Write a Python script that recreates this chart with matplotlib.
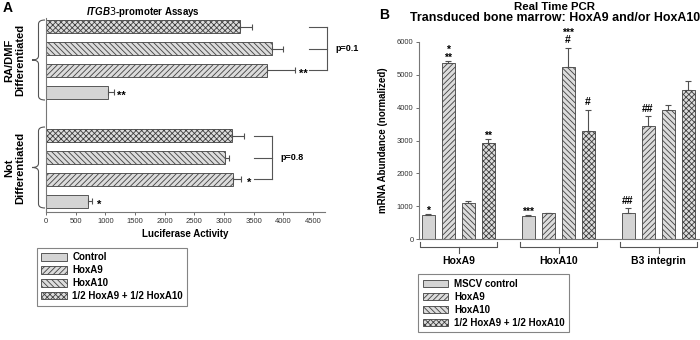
import matplotlib
matplotlib.use("Agg")
import matplotlib.pyplot as plt
from matplotlib.path import Path
from matplotlib.patches import PathPatch, Patch
import numpy as np

plt.rcParams['font.family'] = ['Liberation Sans', 'DejaVu Sans']
plt.rcParams['mathtext.fontset'] = 'custom'
plt.rcParams['mathtext.it'] = 'Liberation Sans:italic:bold'
plt.rcParams['hatch.linewidth'] = 0.6
plt.rcParams['hatch.color'] = '#505050'

# ---- panel A data (luciferase) ----
a_series = ["Control", "HoxA9", "HoxA10", "1/2 HoxA9 + 1/2 HoxA10"]
a_not_vals = [700, 3150, 3020, 3140]
a_not_err = [70, 140, 65, 200]
a_diff_vals = [1050, 3730, 3800, 3270]
a_diff_err = [90, 470, 200, 200]
a_not_sig = ["*", "*", "", ""]
a_diff_sig = ["**", "**", "", ""]
a_groups = ["Not\nDifferentiated", "RA/DMF\nDifferentiated"]
a_pvals = ["p=0.8", "p=0.1"]

# ---- panel B data (real time PCR) ----
b_series = ["MSCV control", "HoxA9", "HoxA10", "1/2 HoxA9 + 1/2 HoxA10"]
b_groups = ["HoxA9", "HoxA10", "B3 integrin"]
b_vals = [[720, 5350, 1100, 2930],
          [700, 780, 5250, 3300],
          [800, 3440, 3930, 4550]]
b_err = [[30, 70, 60, 110],
         [20, 15, 580, 630],
         [130, 300, 160, 270]]
b_sig = [["*", "*\n**", "", "**"],
         ["***", "", "***\n#", "#"],
         ["##", "##", "", ""]]

faces = ['#d4d4d4', '#dcdcdc', '#dcdcdc', '#dcdcdc']
hatches = ['', '//////', '\\\\\\\\\\\\', 'xxxxxx']
edge = '#404040'
ecol = '#505050'

W, H = 700, 340
fig = plt.figure(figsize=(7, 3.4), dpi=100)


def fx(px):
    return px / W


def fy(py):
    return 1 - py / H


def brace_v(x_tip, x_end, y0, y1, r=4):
    # vertical curly brace opening to the right (pixel coords)
    xm = (x_tip + x_end) / 2
    ym = (y0 + y1) / 2
    pts = [(x_end, y0), (xm, y0), (xm, y0 + r), (xm, ym - r), (xm, ym), (x_tip, ym),
           (xm, ym), (xm, ym + r), (xm, y1 - r), (xm, y1), (x_end, y1)]
    codes = [Path.MOVETO, Path.CURVE3, Path.CURVE3, Path.LINETO, Path.CURVE3, Path.CURVE3,
             Path.CURVE3, Path.CURVE3, Path.LINETO, Path.CURVE3, Path.CURVE3]
    p = Path([(fx(a), fy(b)) for a, b in pts], codes)
    fig.patches.append(PathPatch(p, fill=False, lw=0.8, ec='#555555', transform=fig.transFigure))


# ================= Panel A =================
axA = fig.add_axes([fx(46), fy(212), fx(325 - 46), fy(18) - fy(212)])
for g, (vals, errs, sigs) in enumerate([(a_not_vals, a_not_err, a_not_sig),
                                         (a_diff_vals, a_diff_err, a_diff_sig)]):
    pos = np.arange(4) + g * 5
    for i in range(4):
        axA.barh(pos[i], vals[i], height=0.6, color=faces[i], hatch=hatches[i],
                 edgecolor=edge, linewidth=0.6)
        axA.errorbar(vals[i], pos[i], xerr=[[0], [errs[i]]], fmt='none', ecolor=ecol,
                     elinewidth=0.8, capsize=2.5, capthick=0.8)
        if sigs[i]:
            axA.text(vals[i] + errs[i] + 130, pos[i] - 0.15, sigs[i], ha='center', va='center',
                     fontsize=8, fontweight='bold')
axA.set_xlim(0, 4700)
axA.set_ylim(-0.5, 8.4)
axA.set_yticks([])
axA.set_xticks(np.arange(0, 4501, 500))
axA.tick_params(axis='x', labelsize=5.5, length=2, width=0.6, colors='#555555', labelcolor='#333333', pad=2)
for s in ['top', 'right']:
    axA.spines[s].set_visible(False)
for s in ['left', 'bottom']:
    axA.spines[s].set_color('#777777')
    axA.spines[s].set_linewidth(0.8)
axA.set_xlabel("Luciferase Activity", fontsize=7, fontweight='bold', labelpad=3)

# p-value brackets
for g, (x0, x1, pv) in enumerate([(3508, 3811, a_pvals[0]), (4435, 4739, a_pvals[1])]):
    base = g * 5
    for k in (1, 2, 3):
        axA.plot([x0, x1], [base + k, base + k], color='#555555', lw=0.8, clip_on=False)
    axA.plot([x1, x1], [base + 1, base + 3], color='#555555', lw=0.8, clip_on=False)
    axA.text(x1 + 130, base + 2, pv, ha='left', va='center', fontsize=6.5, fontweight='bold')

fig.text(fx(143), fy(12), r"$\it{ITGB3}$" + "-promoter Assays", ha='center', va='center',
         fontsize=7, fontweight='bold')
fig.text(fx(3), fy(8), "A", ha='left', va='center', fontsize=10, fontweight='bold')

# group braces and labels
brace_v(32, 45, 20, 100)
brace_v(32, 45, 127, 208)
fig.text(fx(15), fy(60), a_groups[1], rotation=90, ha='center', va='center', fontsize=8,
         fontweight='bold', linespacing=1.1)
fig.text(fx(15), fy(168), a_groups[0], rotation=90, ha='center', va='center', fontsize=8,
         fontweight='bold', linespacing=1.1)

handlesA = [Patch(facecolor=faces[i], hatch=hatches[i], edgecolor=edge, linewidth=0.6)
            for i in range(4)]
legA = fig.legend(handlesA, a_series, loc='upper left', bbox_to_anchor=(fx(37), fy(248)),
                  fancybox=False, edgecolor='#666666', prop={'size': 7, 'weight': 'bold'},
                  handlelength=2.6, handleheight=0.8, labelspacing=0.3, borderpad=0.45,
                  handletextpad=0.6, borderaxespad=0)
legA.get_frame().set_linewidth(0.8)

# ================= Panel B =================
axB = fig.add_axes([fx(419), fy(239), fx(699 - 419), fy(42) - fy(239)])
for g in range(3):
    pos = np.arange(4) + g * 5
    for i in range(4):
        v, e = b_vals[g][i], b_err[g][i]
        axB.bar(pos[i], v, width=0.65, color=faces[i], hatch=hatches[i], edgecolor=edge,
                linewidth=0.6)
        axB.errorbar(pos[i], v, yerr=[[0], [e]], fmt='none', ecolor=ecol, elinewidth=0.8,
                     capsize=2.5, capthick=0.8)
        s = b_sig[g][i]
        if s:
            off = 80 if s.endswith('#') else -40
            axB.text(pos[i], v + e + off, s, ha='center', va='bottom', fontsize=7.5,
                     fontweight='bold', linespacing=0.7)
axB.set_xlim(-0.45, 13.55)
axB.set_ylim(0, 6000)
axB.set_xticks([])
axB.set_yticks(np.arange(0, 6001, 1000))
axB.tick_params(axis='y', labelsize=5.5, length=2, width=0.6, colors='#555555', labelcolor='#333333', pad=2)
for s in ['top', 'right']:
    axB.spines[s].set_visible(False)
for s in ['left', 'bottom']:
    axB.spines[s].set_color('#777777')
    axB.spines[s].set_linewidth(0.8)
axB.set_ylabel("mRNA Abundance (normalized)", fontsize=7, fontweight='bold', labelpad=6)

# group braces under panel B
trB = axB.get_xaxis_transform()
for g in range(3):
    x0, x1 = g * 5 - 0.4, g * 5 + 3.45
    xm = (x0 + x1) / 2
    axB.plot([x0, x0, x1, x1], [-0.015, -0.04, -0.04, -0.015], color='#555555', lw=0.8,
             transform=trB, clip_on=False)
    axB.plot([xm, xm], [-0.04, -0.07], color='#555555', lw=0.8, transform=trB, clip_on=False)
    axB.text(xm, -0.085, b_groups[g], ha='center', va='top', fontsize=7.5, fontweight='bold',
             transform=trB)

fig.text(fx(554), fy(9.5), "Real Time PCR", ha='center', va='baseline', fontsize=8.2, fontweight='bold')
fig.text(fx(555), fy(21), "Transduced bone marrow: HoxA9 and/or HoxA10", ha='center', va='baseline',
         fontsize=8.9, fontweight='bold')
fig.text(fx(379), fy(15), "B", ha='left', va='center', fontsize=10, fontweight='bold')

handlesB = [Patch(facecolor=faces[i], hatch=hatches[i], edgecolor=edge, linewidth=0.6)
            for i in range(4)]
legB = fig.legend(handlesB, b_series, loc='upper left', bbox_to_anchor=(fx(418), fy(274)),
                  fancybox=False, edgecolor='#666666', prop={'size': 7, 'weight': 'bold'},
                  handlelength=2.6, handleheight=0.8, labelspacing=0.3, borderpad=0.5,
                  handletextpad=0.6, borderaxespad=0)
legB.get_frame().set_linewidth(0.8)

fig.savefig("out.png", dpi=100)
